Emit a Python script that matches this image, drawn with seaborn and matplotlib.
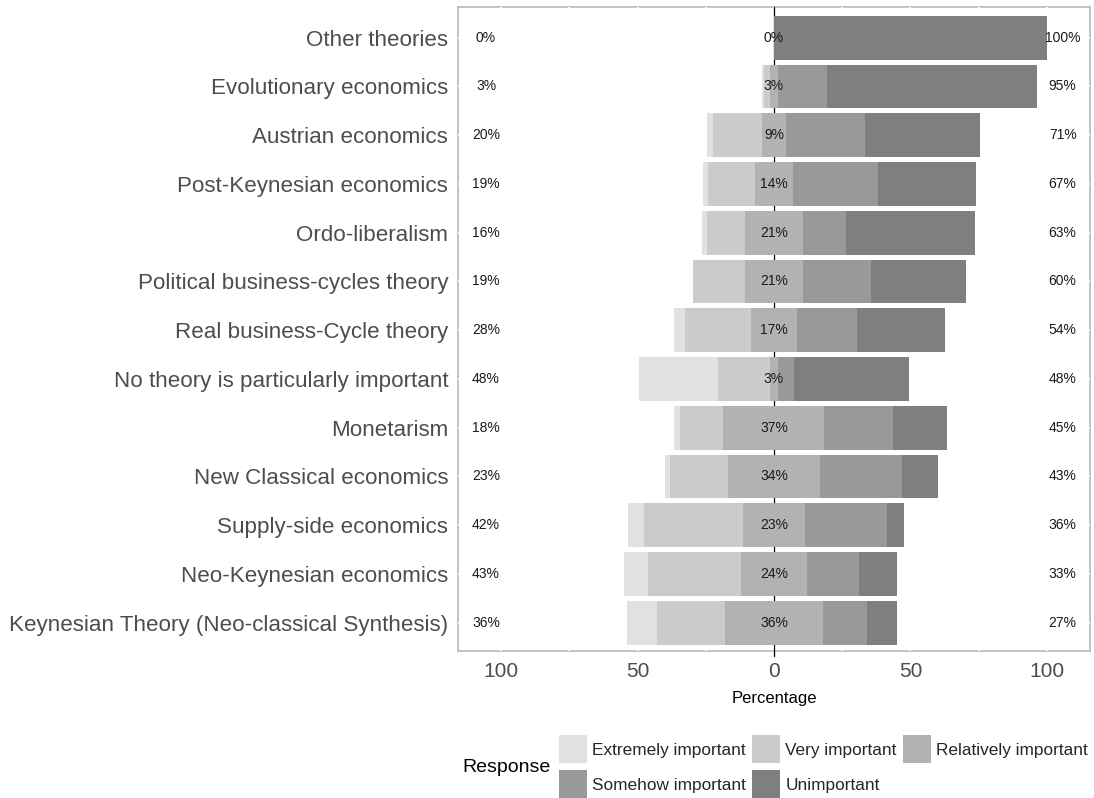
import numpy as np
import pandas as pd
import matplotlib.pyplot as plt
import seaborn as sns
from matplotlib.patches import Patch

# survey answers per theory (percent of respondents)
theories = [
    "Other theories",
    "Evolutionary economics",
    "Austrian economics",
    "Post-Keynesian economics",
    "Ordo-liberalism",
    "Political business-cycles theory",
    "Real business-Cycle theory",
    "No theory is particularly important",
    "Monetarism",
    "New Classical economics",
    "Supply-side economics",
    "Neo-Keynesian economics",
    "Keynesian Theory (Neo-classical Synthesis)",
]
extremely = [0, 1, 2, 2, 2, 0, 4, 29, 2, 2, 6, 9, 11]
very = [0, 2, 18, 17, 14, 19, 24, 19, 16, 21, 36, 34, 25]
relatively = [0, 3, 9, 14, 21, 21, 17, 3, 37, 34, 23, 24, 36]
somehow = [0, 18, 29, 31, 16, 25, 22, 6, 25, 30, 30, 19, 16]
unimportant = [100, 77, 42, 36, 47, 35, 32, 42, 20, 13, 6, 14, 11]

responses = ["Extremely important", "Very important", "Relatively important",
             "Somehow important", "Unimportant"]
colors = ["#e1e1e1", "#cbcbcb", "#b2b2b2", "#999999", "#7f7f7f"]

df = pd.DataFrame({"theory": theories, "E": extremely, "V": very,
                   "R": relatively, "S": somehow, "U": unimportant})
half = df["R"] / 2

sns.set_theme(style="white")
plt.rcParams['font.family'] = ['Liberation Sans', 'DejaVu Sans']

fig = plt.figure(figsize=(10.94, 7.98), dpi=100)
ax = fig.add_axes([0.4186, 0.1842, 0.5777, 0.807])

# overlapping cumulative bars, widest first
layers = [
    (half + df["S"] + df["U"], colors[4]),
    (half + df["S"], colors[3]),
    (-(half + df["V"] + df["E"]), colors[0]),
    (-(half + df["V"]), colors[1]),
]
for vals, col in layers:
    sns.barplot(x=vals, y=df["theory"], orient="h", color=col, saturation=1,
                width=0.9, errorbar=None, linewidth=0, edgecolor="none", ax=ax)
# neutral answer centred on zero
sns.barplot(x=df["R"], y=df["theory"], orient="h", color=colors[2], saturation=1,
            width=0.9, errorbar=None, linewidth=0, edgecolor="none", left=-half, ax=ax)
for p in ax.patches:
    p.set_zorder(2)

ax.axvline(0, ymin=-0.008, color="black", lw=0.9, zorder=0.8, clip_on=False)

# percentage labels
for i in range(len(df)):
    left = df["E"][i] + df["V"][i]
    right = df["S"][i] + df["U"][i]
    ax.text(-105.5, i, f"{left}%", ha="center", va="center", fontsize=10, color="#1a1a1a", zorder=3)
    ax.text(0, i, f"{df['R'][i]}%", ha="center", va="center", fontsize=10, color="#1a1a1a", zorder=3)
    ax.text(105.8, i, f"{right}%", ha="center", va="center", fontsize=10, color="#1a1a1a", zorder=3)

ax.set_xlim(-115.8, 115.8)
ax.set_ylim(12.58, -0.63)
ax.set_xticks([-100, -50, 0, 50, 100])
ax.set_xticklabels(["100", "50", "0", "50", "100"])
ax.set_xticks([-75, -25, 25, 75], minor=True)
ax.tick_params(axis="x", which="both", labelsize=15, colors="#4d4d4d", length=0, pad=8)
ax.tick_params(axis="y", labelsize=16.1, colors="#4d4d4d", length=0, pad=7)
ax.set_xlabel("Percentage", fontsize=12, color="black", labelpad=7)
ax.set_ylabel("")

# white grid that only shows where it crosses the grey border
ax.set_axisbelow(True)
ax.grid(True, which="both", color="white", lw=1.3)
for sp in ax.spines.values():
    sp.set_color("#bdbdbd")
    sp.set_linewidth(1.3)
    sp.set_zorder(0.3)
    sp.set_visible(True)

handles = [Patch(facecolor=c, edgecolor="none", label=r) for r, c in zip(responses, colors)]
order = [0, 3, 1, 4, 2]
fig.legend([handles[k] for k in order], [responses[k] for k in order],
           loc="upper left", bbox_to_anchor=(0.511, 0.079), ncol=3, frameon=False,
           fontsize=12.4, handlelength=1.62, handleheight=2.15, handletextpad=0.29,
           columnspacing=0.38, labelspacing=0.42, borderpad=0, borderaxespad=0)
fig.text(0.4225, 1 - 768 / 798, "Response", fontsize=14, va="center", ha="left", color="black")

fig.savefig("out.png", dpi=100)
